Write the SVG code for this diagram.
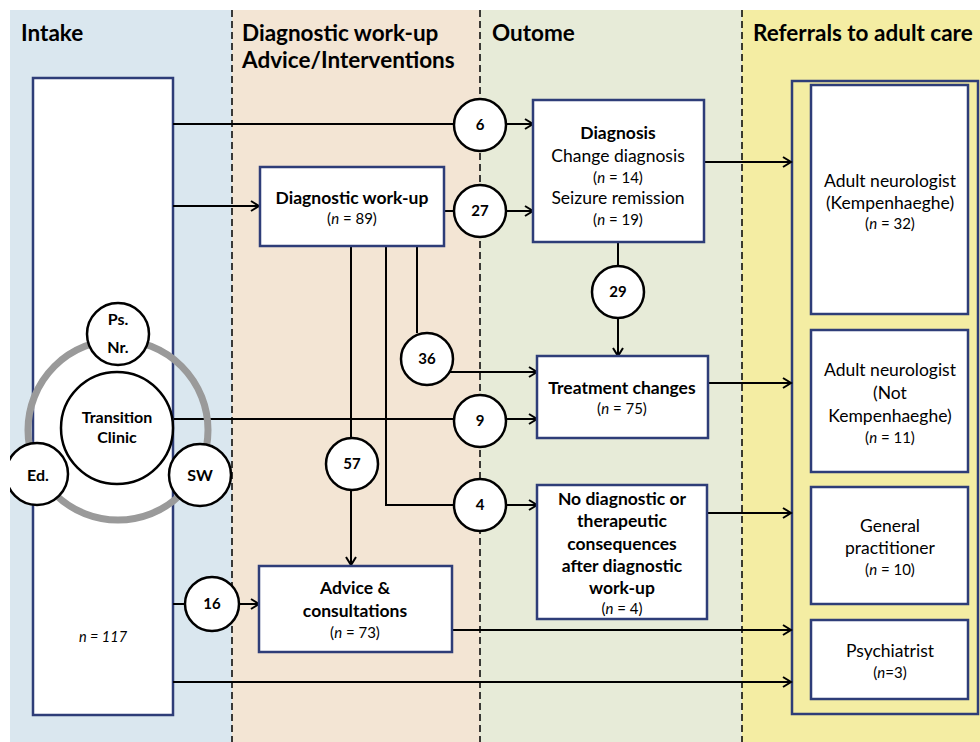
<svg xmlns="http://www.w3.org/2000/svg" width="980" height="742" viewBox="0 0 980 742">
<style>
text{font-family:Lato,"Liberation Sans",sans-serif;fill:#000;text-anchor:middle}
.title{font-size:22.5px;font-weight:bold;text-anchor:start}
.b{font-weight:bold;font-size:17.5px}
.c{font-weight:bold;font-size:16px}
.r{font-size:17.5px}
.s{font-size:15px}
.box{fill:#fff;stroke:#2e3d78;stroke-width:2.5}
.num{fill:#fff;stroke:#000;stroke-width:2.5}
.nt{font-size:15px;font-weight:bold}
.ln{fill:none;stroke:#000;stroke-width:2}
.arr{fill:none;stroke:#000;stroke-width:2;marker-end:url(#ah)}
.dash{stroke:#000;stroke-width:1.5;stroke-dasharray:7 4}
</style>
<defs>
<marker id="ah" markerUnits="userSpaceOnUse" markerWidth="12" markerHeight="12" refX="9" refY="6" orient="auto">
<path d="M1,1 L9,6 L1,11" fill="none" stroke="#000" stroke-width="2"/>
</marker>
<clipPath id="clipL"><rect x="10" y="0" width="970" height="742"/></clipPath>
</defs>
<rect width="980" height="742" fill="#fff"/>
<g id="lanes">
<rect x="10" y="10" width="222" height="732" fill="#dae7ef"/>
<rect x="232" y="10" width="248" height="732" fill="#f3e5d4"/>
<rect x="480" y="10" width="262" height="732" fill="#e7ebd8"/>
<rect x="742" y="10" width="238" height="732" fill="#f4eda3"/>
<line class="dash" x1="232" y1="10" x2="232" y2="742"/>
<line class="dash" x1="480" y1="10" x2="480" y2="742"/>
<line class="dash" x1="742" y1="10" x2="742" y2="742"/>
<text class="title" x="21" y="41">Intake</text>
<text class="title" x="242" y="41">Diagnostic work-up</text>
<text class="title" x="242" y="68">Advice/Interventions</text>
<text class="title" x="492" y="41">Outome</text>
<text class="title" x="753" y="41">Referrals to adult care</text>
</g>
<g id="intake">
<rect class="box" x="33" y="78" width="140" height="637"/>
<text x="103" y="642" style="font-size:14.5px;font-style:italic">n = 117</text>
</g>
<g id="referral-frame">
<rect x="792" y="81" width="186" height="633" fill="#f4eda3" stroke="#2e3d78" stroke-width="2.5"/>
</g>
<g id="connectors">
<path class="ln" d="M173,124 H454"/>
<path class="arr" d="M506,124 H533"/>
<path class="arr" d="M173,206 H259"/>
<path class="ln" d="M444,211 H454"/>
<path class="arr" d="M506,211 H533"/>
<path class="arr" d="M704,162 H791"/>
<path class="ln" d="M618,242 V266"/>
<path class="arr" d="M618,318 V356"/>
<path class="ln" d="M417,246 V333"/>
<path class="arr" d="M450,372 H537"/>
<path class="ln" d="M174,419 H454"/>
<path class="arr" d="M506,419 H537"/>
<path class="arr" d="M708,383 H791"/>
<path class="ln" d="M351,246 V438"/>
<path class="arr" d="M351,490 V565"/>
<path class="ln" d="M386,246 V505 H454"/>
<path class="arr" d="M506,505 H537"/>
<path class="arr" d="M707,513 H791"/>
<path class="ln" d="M173,604 H185"/>
<path class="arr" d="M239,604 H259"/>
<path class="arr" d="M452,630 H791"/>
<path class="arr" d="M173,682 H791"/>
</g>
<g id="transition-clinic">
<circle cx="118" cy="430" r="90" fill="none" stroke="#9a9a9a" stroke-width="7"/>
<circle cx="117" cy="428" r="56" fill="#fff" stroke="#000" stroke-width="2.5"/>
<text class="c" x="117" y="423">Transition</text>
<text class="c" x="117" y="443">Clinic</text>
</g>
<g id="ps-nr">
<circle cx="118" cy="334" r="31" fill="#fff" stroke="#000" stroke-width="2.5"/>
<text class="c" x="118" y="325">Ps.</text>
<text class="c" x="118" y="353">Nr.</text>
</g>
<g id="ed" clip-path="url(#clipL)">
<circle cx="37" cy="474" r="31" fill="#fff" stroke="#000" stroke-width="2.5"/>
<text class="c" x="38" y="481">Ed.</text>
</g>
<g id="sw">
<circle cx="200" cy="475" r="31" fill="#fff" stroke="#000" stroke-width="2.5"/>
<text class="c" x="200" y="481">SW</text>
</g>
<g id="diagnostic-workup">
<rect class="box" x="260" y="167" width="184" height="79"/>
<text class="b" x="352" y="204">Diagnostic work-up</text>
<text class="s" x="352" y="224">(<tspan font-style="italic">n</tspan> =  89)</text>
</g>
<g id="advice">
<rect class="box" x="259" y="566" width="193" height="86"/>
<text class="b" x="355" y="594">Advice &amp;</text>
<text class="b" x="355" y="617">consultations</text>
<text class="s" x="355" y="638">(<tspan font-style="italic">n</tspan> = 73)</text>
</g>
<g id="diagnosis">
<rect class="box" x="533" y="100" width="171" height="142"/>
<text class="b" x="618" y="139">Diagnosis</text>
<text class="r" x="618" y="162">Change diagnosis</text>
<text class="s" x="618" y="183">(<tspan font-style="italic">n</tspan> = 14)</text>
<text class="r" x="618" y="204">Seizure remission</text>
<text class="s" x="618" y="225">(<tspan font-style="italic">n</tspan> = 19)</text>
</g>
<g id="treatment">
<rect class="box" x="537" y="356" width="171" height="82"/>
<text class="b" x="622" y="394">Treatment changes</text>
<text class="s" x="622" y="414">(<tspan font-style="italic">n</tspan> = 75)</text>
</g>
<g id="no-consequences">
<rect class="box" x="537" y="485" width="170" height="134"/>
<text class="b" x="622" y="505">No diagnostic or</text>
<text class="b" x="622" y="527">therapeutic</text>
<text class="b" x="622" y="550">consequences</text>
<text class="b" x="622" y="572">after diagnostic</text>
<text class="b" x="622" y="594">work-up</text>
<text class="s" x="622" y="614">(<tspan font-style="italic">n</tspan> = 4)</text>
</g>
<g id="ref-kempenhaeghe">
<rect class="box" x="811" y="85" width="157" height="229"/>
<text class="r" x="890" y="187">Adult neurologist</text>
<text class="r" x="890" y="209">(Kempenhaeghe)</text>
<text class="s" x="890" y="229">(<tspan font-style="italic">n</tspan> = 32)</text>
</g>
<g id="ref-not-kempenhaeghe">
<rect class="box" x="811" y="330" width="157" height="142"/>
<text class="r" x="890" y="376">Adult neurologist</text>
<text class="r" x="890" y="399">(Not</text>
<text class="r" x="890" y="422">Kempenhaeghe)</text>
<text class="s" x="890" y="443">(<tspan font-style="italic">n</tspan> = 11)</text>
</g>
<g id="ref-gp">
<rect class="box" x="811" y="487" width="157" height="117"/>
<text class="r" x="890" y="532">General</text>
<text class="r" x="890" y="554">practitioner</text>
<text class="s" x="890" y="575">(<tspan font-style="italic">n</tspan> = 10)</text>
</g>
<g id="ref-psychiatrist">
<rect class="box" x="811" y="620" width="157" height="79"/>
<text class="r" x="890" y="657">Psychiatrist</text>
<text class="s" x="890" y="678">(<tspan font-style="italic">n</tspan>=3)</text>
</g>
<g id="n6"><circle class="num" cx="480" cy="125" r="26"/><text class="nt" x="480" y="130">6</text></g>
<g id="n27"><circle class="num" cx="480" cy="211" r="26"/><text class="nt" x="480" y="216">27</text></g>
<g id="n29"><circle class="num" cx="618" cy="292" r="26"/><text class="nt" x="618" y="297">29</text></g>
<g id="n36"><circle class="num" cx="427" cy="359" r="26"/><text class="nt" x="427" y="364">36</text></g>
<g id="n9"><circle class="num" cx="480" cy="421" r="26"/><text class="nt" x="480" y="426">9</text></g>
<g id="n57"><circle class="num" cx="352" cy="464" r="26"/><text class="nt" x="352" y="469">57</text></g>
<g id="n4"><circle class="num" cx="480" cy="505" r="26"/><text class="nt" x="480" y="510">4</text></g>
<g id="n16"><circle class="num" cx="212" cy="604" r="27"/><text class="nt" x="212" y="609">16</text></g>
</svg>
